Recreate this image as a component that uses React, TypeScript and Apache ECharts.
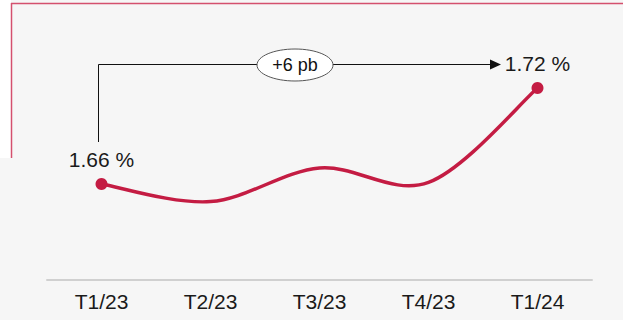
import React, { useEffect, useRef } from "react";
import * as echarts from "echarts";

const categories = ["T1/23", "T2/23", "T3/23", "T4/23", "T1/24"];
const rateValues = [1.66, 1.649, 1.67, 1.661, 1.72];
const labelled = [0, 4];
const deltaText = "+6 pb";

const FONT = '"Liberation Sans", Arial, sans-serif';
const RED = "#c41c43";

export default function App() {
  const ref = useRef<HTMLDivElement>(null);
  useEffect(() => {
    document.body.style.margin = "0";
    const chart = echarts.init(ref.current!, null, { renderer: "svg" });
    chart.setOption({
      animation: false,
      backgroundColor: "#f6f6f6",
      grid: { left: 47, right: 31, top: 40, bottom: 40 },
      xAxis: {
        type: "category",
        data: categories,
        boundaryGap: true,
        axisLine: { lineStyle: { color: "#d0d0d0", width: 2 } },
        axisTick: { show: false },
        axisLabel: { color: "#1a1a1a", fontSize: 21, fontFamily: FONT, margin: 11 },
      },
      yAxis: { type: "value", min: 1.6, max: 1.75, show: false, splitLine: { show: false } },
      series: [
        {
          type: "custom",
          data: [0],
          z: 2,
          silent: true,
          renderItem: (params: any, api: any) => {
            const pts = rateValues.map((v, i) => api.coord([i, v]));
            let d = `M${pts[0][0]},${pts[0][1]}`;
            const n = pts.length;
            for (let i = 0; i < n - 1; i++) {
              const p0 = pts[Math.max(0, i - 1)];
              const p1 = pts[i];
              const p2 = pts[i + 1];
              const p3 = pts[Math.min(n - 1, i + 2)];
              const c1x = p1[0] + (p2[0] - p0[0]) / 6;
              const c1y = p1[1] + (p2[1] - p0[1]) / 6;
              const c2x = p2[0] - (p3[0] - p1[0]) / 6;
              const c2y = p2[1] - (p3[1] - p1[1]) / 6;
              d += ` C${c1x},${c1y} ${c2x},${c2y} ${p2[0]},${p2[1]}`;
            }
            return {
              type: "path",
              shape: { pathData: d },
              style: { stroke: RED, lineWidth: 3.5, fill: "none", lineCap: "round" },
            };
          },
        },
        {
          type: "scatter",
          z: 3,
          symbol: "circle",
          symbolSize: 12,
          itemStyle: { color: RED, opacity: 1 },
          data: labelled.map((i) => [i, rateValues[i]]),
          label: {
            show: true,
            position: "top",
            distance: 8,
            formatter: (p: any) => p.value[1].toFixed(2) + " %",
            fontSize: 21,
            fontFamily: FONT,
            color: "#1a1a1a",
            opacity: 1,
          },
        },
      ],
      graphic: [
        { type: "rect", shape: { x: 0, y: 0, width: 11, height: 158 }, style: { fill: "#ffffff" } },
        { type: "line", shape: { x1: 11, y1: 3.5, x2: 623, y2: 3.5 }, style: { stroke: "#d4506e", lineWidth: 1.5 } },
        { type: "line", shape: { x1: 11.5, y1: 3, x2: 11.5, y2: 158 }, style: { stroke: "#d4506e", lineWidth: 1.5 } },
        {
          type: "polyline",
          shape: { points: [[98.5, 142], [98.5, 64.5], [257, 64.5]] },
          style: { stroke: "#111", lineWidth: 1, fill: null },
        },
        { type: "line", shape: { x1: 333, y1: 64.5, x2: 491, y2: 64.5 }, style: { stroke: "#111", lineWidth: 1 } },
        { type: "polygon", shape: { points: [[490, 59.5], [501, 64.5], [490, 69.5]] }, style: { fill: "#111" } },
        { type: "ellipse", shape: { cx: 295, cy: 65, rx: 38, ry: 16 }, style: { fill: "#ffffff", stroke: "#555", lineWidth: 1 } },
        {
          type: "text",
          x: 295,
          y: 65,
          style: { text: deltaText, fontSize: 18, fontFamily: FONT, fill: "#111", align: "center", verticalAlign: "middle" },
        },
      ],
    });
    return () => chart.dispose();
  }, []);
  return <div ref={ref} style={{ position: "absolute", left: 0, top: 0, width: 623, height: 320 }} />;
}
